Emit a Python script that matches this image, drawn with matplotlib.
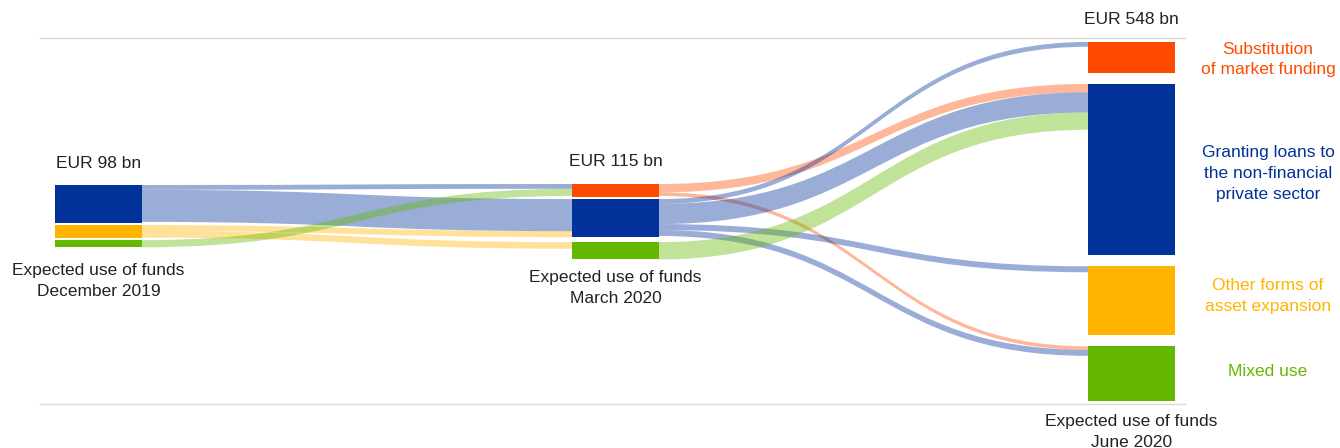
"""
Sankey of banks' expected use of funds: Dec 2019 -> Mar 2020 -> Jun 2020
"""

import matplotlib
matplotlib.use('Agg')
import matplotlib.pyplot as plt
from matplotlib.path import Path
from matplotlib.patches import PathPatch, Rectangle

plt.rcParams['font.family'] = ['Liberation Sans', 'DejaVu Sans']

# --- data (EUR bn) ---
categories = ['substitution', 'loans', 'other', 'mixed']
cat_labels = ['Substitution\nof market funding',
              'Granting loans to\nthe non-financial\nprivate sector',
              'Other forms of\nasset expansion',
              'Mixed use']
cat_colors = {'substitution': '#FF4B00', 'loans': '#003299',
              'other': '#FFB400', 'mixed': '#65B800'}

dec_nodes = ['loans', 'other', 'mixed']
dec_values = [64, 22, 12]
mar_nodes = ['substitution', 'loans', 'mixed']
mar_values = [22, 64, 29]
jun_nodes = ['substitution', 'loans', 'other', 'mixed']
jun_values = [52, 288, 116, 92]

totals = ['EUR 98 bn', 'EUR 115 bn', 'EUR 548 bn']
captions = ['Expected use of funds\nDecember 2019',
            'Expected use of funds\nMarch 2020',
            'Expected use of funds\nJune 2020']

flows_dec_mar = [('loans', 'substitution', 8), ('loans', 'loans', 54),
                 ('other', 'loans', 10), ('other', 'mixed', 11),
                 ('mixed', 'substitution', 12)]
flows_mar_jun = [('substitution', 'loans', 14), ('substitution', 'mixed', 6),
                 ('loans', 'substitution', 8), ('loans', 'loans', 34),
                 ('loans', 'other', 10), ('loans', 'mixed', 10),
                 ('mixed', 'loans', 29)]

# --- layout (pixels) ---
k = 0.595                 # px per EUR bn
col_x = [55, 572, 1088]
node_w = 87
col_top = [185, 184, 42]
col_gaps = [[2, 2], [2, 5], [11, 11, 11]]
caption_dy = [16, 11, 13]

fig = plt.figure(figsize=(13.4, 4.48), dpi=100)
ax = fig.add_axes([0, 0, 1, 1])
ax.set_xlim(0, 1340)
ax.set_ylim(448, 0)
ax.axis('off')

ax.plot([40, 1185], [38, 38], color='#D9D9D9', lw=1, zorder=0)
ax.plot([40, 1185], [404, 404], color='#D9D9D9', lw=1, zorder=0)

columns = [(dec_nodes, dec_values), (mar_nodes, mar_values), (jun_nodes, jun_values)]
node_pos = []   # per column: dict name -> (top, bottom)
for c, (names, vals) in enumerate(columns):
    y = col_top[c]
    pos = {}
    for i, (name, v) in enumerate(zip(names, vals)):
        h = v * k
        pos[name] = (y, y + h)
        ax.add_patch(Rectangle((col_x[c], y), node_w, h,
                               color=cat_colors[name], lw=0, zorder=3))
        if i < len(col_gaps[c]):
            y += h + col_gaps[c][i]
    node_pos.append(pos)


def draw_flows(c, flows):
    src_names = columns[c][0]
    tgt_names = columns[c + 1][0]
    xs = col_x[c] + node_w
    xt = col_x[c + 1]
    xm = (xs + xt) / 2
    # outflows ordered by target, inflows ordered by source
    out_off = {n: node_pos[c][n][0] for n in src_names}
    in_off = {n: node_pos[c + 1][n][0] for n in tgt_names}
    src_y = {}
    for f in sorted(flows, key=lambda f: (src_names.index(f[0]), tgt_names.index(f[1]))):
        src_y[f] = out_off[f[0]]
        out_off[f[0]] += f[2] * k
    tgt_y = {}
    for f in sorted(flows, key=lambda f: (tgt_names.index(f[1]), src_names.index(f[0]))):
        tgt_y[f] = in_off[f[1]]
        in_off[f[1]] += f[2] * k
    for f in flows:
        w = f[2] * k
        y0, y1 = src_y[f], tgt_y[f]
        verts = [(xs, y0), (xm, y0), (xm, y1), (xt, y1),
                 (xt, y1 + w), (xm, y1 + w), (xm, y0 + w), (xs, y0 + w),
                 (xs, y0)]
        codes = [Path.MOVETO, Path.CURVE4, Path.CURVE4, Path.CURVE4,
                 Path.LINETO, Path.CURVE4, Path.CURVE4, Path.CURVE4,
                 Path.CLOSEPOLY]
        ax.add_patch(PathPatch(Path(verts, codes), facecolor=cat_colors[f[0]],
                               edgecolor='none', alpha=0.4, zorder=2))


draw_flows(0, flows_dec_mar)
draw_flows(1, flows_mar_jun)

# --- texts ---
fs = 12.5
ls = 1.48
for c in range(3):
    cx = col_x[c] + node_w / 2
    tops = [p[0] for p in node_pos[c].values()]
    bots = [p[1] for p in node_pos[c].values()]
    ax.text(cx, min(tops) - 22, totals[c], ha='center', va='center',
            fontsize=fs, color='#222222')
    ax.text(cx, max(bots) + caption_dy[c], captions[c], ha='center', va='top',
            fontsize=fs, color='#222222', linespacing=ls)

label_dy = {'substitution': 2, 'loans': 4, 'other': -5, 'mixed': -2}
for name, lab in zip(categories, cat_labels):
    top, bot = node_pos[2][name]
    ax.text(1268, (top + bot) / 2 + label_dy[name], lab, ha='center', va='center',
            fontsize=fs, color=cat_colors[name], linespacing=ls)

plt.savefig('out.png', dpi=100)
plt.close()
